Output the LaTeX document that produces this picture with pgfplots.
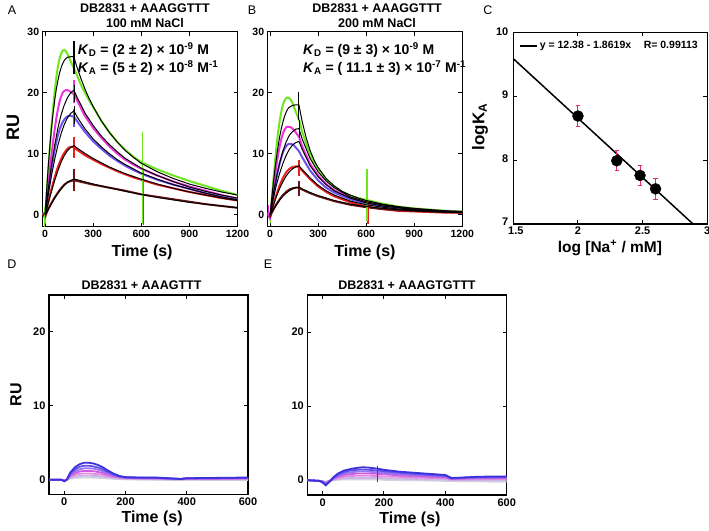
\documentclass[border=0pt]{standalone}
\usepackage{fontspec}
\setmainfont{Liberation Sans}
\usepackage{pgfplots}
\pgfplotsset{compat=1.18}
\definecolor{cgreen}{RGB}{110,230,30}
\definecolor{cmag}{RGB}{240,50,220}
\definecolor{cblue}{RGB}{110,80,240}
\definecolor{cred}{RGB}{235,30,30}
\definecolor{cdark}{RGB}{110,20,20}
\definecolor{cerr}{RGB}{235,40,100}
\definecolor{d1}{RGB}{60,50,220}
\definecolor{d2}{RGB}{100,80,235}
\definecolor{d3}{RGB}{150,120,240}
\definecolor{d4}{RGB}{210,90,225}
\definecolor{d5}{RGB}{225,140,225}
\definecolor{d6}{RGB}{205,180,230}
\definecolor{d7}{RGB}{210,210,225}
\newcommand{\lblfont}{\fontsize{16}{18}\selectfont\bfseries}
\newcommand{\ttlfont}{\fontsize{12.5}{15}\selectfont\bfseries}
\pgfplotsset{
  spr/.style={scale only axis, clip=false,
    axis line style={line width=1.2pt},
    every tick/.style={line width=1pt, black},
    major tick length=4pt, tick align=inside,
  },
  tlf/.style={tick label style={font=\fontsize{#1}{13}\selectfont\bfseries}},
  dat/.style={line width=2pt, no marks},
  fit/.style={black, line width=1pt, no marks},
}
\tikzset{ktext/.style={anchor=west, font=\fontsize{14}{16}\selectfont\bfseries, inner sep=0pt}}
\begin{document}
\begin{tikzpicture}[x=1pt,y=1pt]
\path[use as bounding box] (0,0) rectangle (709,530);
% ---------------- Panel A ----------------
\begin{axis}[spr, tlf=10.5, at={(42.7pt,303.3pt)}, anchor=south west, width=194.8pt, height=195pt,
  xmin=-15, xmax=1200, ymin=-2, ymax=30,
  xtick={0,300,600,900,1200}, ytick={0,10,20,30},
  xticklabels={\textbf{0},\textbf{300},\textbf{600},\textbf{900},\textbf{1200}},
  yticklabels={\textbf{0},\textbf{10},\textbf{20},\textbf{30}},
  xlabel={Time (s)}, ylabel={RU},
  every axis x label/.style={at={(axis description cs:0.51,-0.13)}, anchor=center, font=\lblfont},
  every axis y label/.style={at={(axis description cs:-0.152,0.511)}, anchor=center, rotate=90, font=\fontsize{18}{20}\selectfont\bfseries},
  title={DB2831 + AAAGGTTT\\100 mM NaCl},
  every axis title/.style={at={(axis description cs:0.525,1.083)}, anchor=center, align=center, font=\ttlfont},
]
\addplot[dat, cgreen] coordinates {(-15,0.3) (-5,0.2) (0,-1.5) (2,1) (5,1.5) (10,3.5) (20,7.5) (30,11) (40,14.5) (50,17.5) (60,20.2) (70,22.5) (80,24.3) (90,25.6) (100,26.4) (110,26.9) (120,27.0) (130,26.8) (140,26.3) (150,25.7) (160,25.1) (170,24.5) (180,24.0) (190,23.4) (200,22.8) (225,21.2) (250,19.9) (275,18.7) (300,17.6) (350,15.4) (400,13.5) (450,11.9) (500,10.6) (550,9.5) (600,8.6) (650,8.0) (700,7.4) (800,6.4) (900,5.5) (1000,4.7) (1100,3.9) (1200,3.2)};
\addplot[dat, cmag] coordinates {(-15,0.2) (0,-0.3) (10,2.5) (20,5) (30,7.5) (40,9.8) (50,12) (60,14) (70,15.8) (80,17.3) (90,18.5) (100,19.4) (110,20) (120,20.3) (130,20.4) (140,20.4) (150,20.3) (160,20.1) (170,19.9) (180,19.8) (190,19.3) (200,18.7) (250,16.1) (300,14.2) (350,12.6) (400,11.2) (450,10.0) (500,9.0) (550,8.2) (600,7.5) (700,6.4) (800,5.4) (900,4.6) (1000,3.9) (1100,3.2) (1200,2.6)};
\addplot[dat, cblue] coordinates {(-15,0.2) (0,-0.3) (10,2) (20,3.9) (30,5.8) (40,7.6) (50,9.2) (60,10.6) (70,11.9) (80,13) (90,13.9) (100,14.6) (110,15.2) (120,15.6) (130,15.9) (140,16.1) (150,16.2) (160,16.2) (170,16.1) (180,16.0) (200,15.3) (250,13.5) (300,12.0) (350,10.8) (400,9.7) (450,8.8) (500,8.0) (550,7.3) (600,6.7) (700,5.7) (800,4.9) (900,4.2) (1000,3.5) (1100,2.9) (1200,2.4)};
\addplot[dat, cred] coordinates {(-15,0.1) (0,-0.3) (10,1) (20,2.1) (30,3.2) (40,4.2) (50,5.2) (60,6.1) (70,7) (80,7.8) (90,8.5) (100,9.1) (110,9.7) (120,10.1) (130,10.5) (140,10.8) (150,11.0) (160,11.1) (170,11.1) (180,11.0) (200,10.6) (250,9.7) (300,9.0) (350,8.3) (400,7.7) (450,7.1) (500,6.6) (550,6.1) (600,5.7) (700,4.9) (800,4.3) (900,3.7) (1000,3.2) (1100,2.7) (1200,2.3)};
\addplot[dat, cdark] coordinates {(-15,0) (0,-0.3) (20,0.9) (40,1.9) (60,2.8) (80,3.6) (100,4.3) (120,4.9) (140,5.3) (160,5.5) (180,5.6) (200,5.5) (250,5.2) (300,4.9) (400,4.4) (500,3.9) (600,3.3) (700,2.9) (800,2.5) (900,2.1) (1000,1.7) (1100,1.4) (1200,1.1)};
% injection spikes
\addplot[cmag, line width=1.3pt] coordinates {(611,-1.5) (611,7.5)};
\addplot[cred, line width=1.3pt] coordinates {(613,-1.8) (613,3.5)};
\addplot[cgreen, line width=1.5pt] coordinates {(608,-1.5) (608,13.5)};
\addplot[cgreen, line width=1pt] coordinates {(-3,-2) (-3,1.2)};
\addplot[cmag, line width=1.2pt] coordinates {(180,18.3) (180,22)};
\addplot[cblue, line width=1.2pt] coordinates {(180,14.3) (180,17.3)};
\addplot[cred, line width=1.2pt] coordinates {(180,9.3) (180,12.8)};
\addplot[cdark, line width=1.2pt] coordinates {(180,3.8) (180,7.5)};
% fits
\addplot[fit] coordinates {(0,0) (10,4.2) (20,8) (30,11.3) (40,14.2) (50,16.7) (60,18.8) (70,20.6) (80,22) (90,23.2) (100,24.1) (110,24.8) (120,25.3) (130,25.6) (140,25.8) (160,25.9) (180,25.9) (190,24.9) (200,24.1) (225,22.2) (250,20.5) (275,19.0) (300,17.7) (350,15.4) (400,13.5) (450,11.9) (500,10.5) (550,9.4) (600,8.4) (700,7.0) (800,5.9) (900,5.0) (1000,4.3) (1100,3.7) (1200,3.2)};
\addplot[fit] coordinates {(0,0) (20,4.2) (40,8.1) (60,11.4) (80,14.2) (100,16.4) (120,18.0) (140,19.2) (160,20.0) (180,20.4) (200,19.2) (250,16.6) (300,14.6) (350,12.9) (400,11.5) (450,10.3) (500,9.2) (600,7.6) (700,6.4) (800,5.4) (900,4.5) (1000,3.8) (1100,3.2) (1200,2.7)};
\addplot[fit] coordinates {(0,0) (20,3.3) (40,6.4) (60,9.1) (80,11.4) (100,13.3) (120,14.8) (140,15.9) (160,16.6) (180,17.0) (200,16.0) (250,14.0) (300,12.4) (350,11.1) (400,10.0) (450,9.0) (500,8.2) (600,6.8) (700,5.8) (800,4.9) (900,4.2) (1000,3.5) (1100,2.9) (1200,2.4)};
\addplot[fit] coordinates {(0,0) (20,1.9) (40,3.8) (60,5.6) (80,7.2) (100,8.6) (120,9.7) (140,10.5) (160,11.0) (180,11.3) (200,10.9) (250,10.0) (300,9.2) (400,7.8) (500,6.7) (600,5.8) (700,5.0) (800,4.3) (900,3.7) (1000,3.2) (1100,2.7) (1200,2.3)};
\addplot[fit] coordinates {(0,0) (20,0.9) (40,1.8) (60,2.7) (80,3.5) (100,4.2) (120,4.8) (140,5.3) (160,5.6) (180,5.8) (200,5.7) (300,5.0) (400,4.4) (500,3.8) (600,3.3) (700,2.8) (800,2.4) (900,2.0) (1000,1.7) (1100,1.4) (1200,1.1)};
\addplot[black, line width=1.1pt] coordinates {(180,23) (180,28.5)};
\addplot[black, line width=1pt] coordinates {(182,18.5) (182,21.2)};
\addplot[black, line width=1pt] coordinates {(182,14.8) (182,17.8)};
\node[ktext] at (axis description cs:0.18,0.906) {\textit{K}\textsubscript{D} = (2 ± 2) × 10\textsuperscript{-9} M};
\node[ktext] at (axis description cs:0.18,0.813) {\textit{K}\textsubscript{A} = (5 ± 2) × 10\textsuperscript{-8} M\textsuperscript{-1}};
\end{axis}
% ---------------- Panel B ----------------
\begin{axis}[spr, tlf=10.5, at={(267.7pt,303.3pt)}, anchor=south west, width=194.6pt, height=195pt,
  xmin=-15, xmax=1200, ymin=-2, ymax=30,
  xtick={0,300,600,900,1200}, ytick={0,10,20,30},
  xticklabels={\textbf{0},\textbf{300},\textbf{600},\textbf{900},\textbf{1200}},
  yticklabels={\textbf{0},\textbf{10},\textbf{20},\textbf{30}},
  xlabel={Time (s)},
  every axis x label/.style={at={(axis description cs:0.5,-0.13)}, anchor=center, font=\lblfont},
  title={DB2831 + AAAGGTTT\\200 mM NaCl},
  every axis title/.style={at={(axis description cs:0.562,1.083)}, anchor=center, align=center, font=\ttlfont},
]
\addplot[dat, cgreen] coordinates {(-15,0.3) (0,-0.8) (5,0.5) (10,2.5) (20,5.5) (30,8.5) (40,11.2) (50,13.5) (60,15.4) (70,16.9) (80,18) (90,18.7) (100,19.1) (110,19.2) (120,19.1) (130,18.8) (140,18.3) (150,17.6) (160,16.9) (170,16.2) (180,15.6) (190,14.6) (200,13.6) (225,11.6) (250,9.9) (275,8.6) (300,7.5) (350,5.8) (400,4.6) (450,3.7) (500,3.1) (550,2.7) (600,2.4) (700,1.8) (800,1.3) (900,1.0) (1000,0.8) (1100,0.6) (1200,0.5)};
\addplot[dat, cmag] coordinates {(-15,0.2) (0,-0.5) (10,1.8) (20,4) (30,6.2) (40,8.1) (50,9.8) (60,11.2) (70,12.4) (80,13.3) (90,13.9) (100,14.3) (110,14.4) (120,14.4) (130,14.3) (140,14.1) (150,13.8) (160,13.5) (170,13.1) (180,12.8) (200,11.2) (250,8.3) (300,6.4) (350,5.0) (400,4.0) (500,2.7) (600,2.0) (700,1.5) (800,1.1) (900,0.9) (1000,0.7) (1100,0.5) (1200,0.4)};
\addplot[dat, cblue] coordinates {(-15,0.2) (0,-0.4) (10,1.4) (20,3.0) (30,4.6) (40,6.0) (50,7.3) (60,8.4) (70,9.4) (80,10.2) (90,10.8) (100,11.2) (110,11.5) (120,11.6) (130,11.6) (140,11.5) (150,11.3) (160,11.0) (170,10.7) (180,10.4) (200,9.4) (250,7.2) (300,5.6) (350,4.4) (400,3.6) (500,2.5) (600,1.8) (700,1.4) (800,1.0) (900,0.8) (1000,0.6) (1100,0.5) (1200,0.4)};
\addplot[dat, cred] coordinates {(-15,0.1) (0,-0.3) (20,1.6) (40,3.3) (60,4.8) (80,6.0) (100,6.9) (120,7.5) (140,7.8) (160,7.9) (180,7.8) (200,7.2) (250,5.8) (300,4.6) (350,3.7) (400,3.0) (500,2.0) (600,1.3) (700,0.9) (800,0.6) (900,0.5) (1000,0.4) (1100,0.3) (1200,0.3)};
\addplot[dat, cdark] coordinates {(-15,0) (0,-0.3) (20,0.8) (40,1.7) (60,2.5) (80,3.2) (100,3.7) (120,4.1) (140,4.3) (160,4.4) (180,4.4) (200,4.1) (250,3.5) (300,3.0) (400,2.2) (500,1.6) (600,1.2) (700,0.9) (800,0.7) (900,0.6) (1000,0.5) (1100,0.4) (1200,0.3)};
\addplot[cred, line width=1.2pt] coordinates {(611,-1.5) (611,2)};
\addplot[cgreen, line width=1.6pt] coordinates {(606,-1) (606,7.5)};
\addplot[cmag, line width=1pt] coordinates {(-8,-0.5) (-8,1.5)};
\addplot[cred, line width=1.2pt] coordinates {(180,6.3) (180,9)};
\addplot[cdark, line width=1.2pt] coordinates {(180,3) (180,5.5)};
\addplot[fit] coordinates {(0,0) (10,2.6) (20,5.1) (30,7.4) (40,9.4) (50,11.2) (60,12.8) (70,14.1) (80,15.2) (90,16.1) (100,16.8) (110,17.3) (120,17.6) (140,17.9) (160,18.0) (180,18.0) (190,16.6) (200,15.3) (225,12.6) (250,10.5) (275,8.9) (300,7.7) (350,5.9) (400,4.7) (450,3.8) (500,3.2) (550,2.7) (600,2.3) (700,1.7) (800,1.3) (900,1.0) (1000,0.8) (1100,0.6) (1200,0.5)};
\addplot[fit] coordinates {(0,0) (20,3.4) (40,6.2) (60,8.5) (80,10.4) (100,11.9) (120,13.0) (140,13.6) (160,14.0) (180,14.1) (200,12.4) (250,9.2) (300,7.0) (350,5.5) (400,4.4) (500,2.9) (600,2.1) (700,1.6) (800,1.2) (900,0.9) (1000,0.7) (1100,0.5) (1200,0.4)};
\addplot[fit] coordinates {(0,0) (20,2.6) (40,4.9) (60,6.8) (80,8.4) (100,9.7) (120,10.7) (140,11.4) (160,11.8) (180,12.0) (200,10.7) (250,8.0) (300,6.2) (350,4.9) (400,3.9) (500,2.7) (600,1.9) (700,1.4) (800,1.1) (900,0.8) (1000,0.6) (1100,0.5) (1200,0.4)};
\addplot[fit] coordinates {(0,0) (20,1.5) (40,3.0) (60,4.3) (80,5.4) (100,6.3) (120,7.0) (140,7.5) (160,7.8) (180,8.0) (200,7.4) (250,6.0) (300,4.8) (350,3.9) (400,3.2) (500,2.2) (600,1.6) (700,1.2) (800,0.9) (900,0.7) (1000,0.5) (1100,0.4) (1200,0.4)};
\addplot[fit] coordinates {(0,0) (20,0.8) (40,1.6) (60,2.4) (80,3.0) (100,3.5) (120,3.9) (140,4.2) (160,4.4) (180,4.5) (200,4.2) (250,3.6) (300,3.1) (400,2.3) (500,1.7) (600,1.3) (700,1.0) (800,0.8) (900,0.6) (1000,0.5) (1100,0.4) (1200,0.3)};
\addplot[black, line width=1.1pt] coordinates {(180,15.5) (180,20.1)};
\addplot[black, line width=1pt] coordinates {(182,12.5) (182,15.5)};
\node[ktext] at (axis description cs:0.181,0.906) {\textit{K}\textsubscript{D} = (9 ± 3) × 10\textsuperscript{-9} M};
\node[ktext] at (axis description cs:0.181,0.813) {\textit{K}\textsubscript{A} = ( 11.1 ± 3) × 10\textsuperscript{-7} M\textsuperscript{-1}};
\end{axis}
% ---------------- Panel C ----------------
\begin{axis}[spr, tlf=11, at={(513.3pt,306pt)}, anchor=south west, width=194pt, height=191.7pt,
  xmin=1.5, xmax=3, ymin=7, ymax=10,
  xtick={1.5,2,2.5,3}, ytick={7,8,9,10},
  xticklabels={\textbf{\hspace{5pt}1.5},\textbf{2},\textbf{2.5},\textbf{3}},
  yticklabels={\raisebox{2.5pt}{\textbf{7}},\textbf{8},\textbf{9},\textbf{10}},
  xticklabel style={yshift=1pt},
  yticklabel style={xshift=-1.5pt, yshift=1pt},
  xlabel={log [Na\textsuperscript{+} / mM]}, ylabel={logK\textsubscript{A}},
  every axis x label/.style={at={(axis description cs:0.498,-0.125)}, anchor=center, font=\fontsize{15.5}{18}\selectfont\bfseries},
  every axis y label/.style={at={(axis description cs:-0.172,0.506)}, anchor=center, rotate=90, font=\fontsize{17}{19}\selectfont\bfseries},
  legend style={at={(axis description cs:0.03,0.929)}, anchor=west, draw=none, fill=none, inner sep=0pt,
    font=\fontsize{10.5}{12}\selectfont\bfseries, cells={anchor=west}},
  legend image code/.code={\draw[#1] (0pt,0pt) -- (17pt,0pt);},
]
\addplot[black, line width=1.5pt] coordinates {(1.5,9.587) (2.8896,7.0)};
\addlegendentry{y = 12.38 - 1.8619x\hspace{1.2em}R= 0.99113}
\addplot[only marks, mark=*, mark size=5.5pt, black,
  error bars/.cd, y dir=both, y explicit,
  error bar style={color=cerr, line width=1pt},
  error mark options={color=cerr, rotate=90, mark size=2.2pt, line width=1pt}]
  coordinates {(2.0,8.69) +- (0,0.17) (2.3,7.99) +- (0,0.16) (2.48,7.76) +- (0,0.16) (2.6,7.55) +- (0,0.16)};
\end{axis}
% ---------------- Panel D ----------------
\begin{axis}[spr, tlf=11, at={(49pt,35.5pt)}, anchor=south west, width=199pt, height=199.5pt,
  xmin=-50, xmax=600, ymin=-2, ymax=25,
  xtick={0,200,400,600}, ytick={0,10,20},
  xticklabels={\textbf{0},\textbf{200},\textbf{400},\textbf{600}},
  yticklabels={\textbf{0},\textbf{10},\textbf{20}},
  xlabel={Time (s)}, ylabel={RU},
  every axis x label/.style={at={(axis description cs:0.518,-0.118)}, anchor=center, font=\lblfont},
  every axis y label/.style={at={(axis description cs:-0.166,0.499)}, anchor=center, rotate=90, font=\lblfont},
  title={DB2831 + AAAGTTT},
  every axis title/.style={at={(axis description cs:0.465,1.05)}, anchor=center, font=\ttlfont},
]
\addplot[d7, line width=1.8pt] coordinates {(-50,0) (-10,0) (0,-0.1) (8,0) (20,0.15) (35,0.23) (50,0.28) (65,0.3) (80,0.3) (95,0.28) (110,0.26) (125,0.22) (140,0.18) (160,0.12) (180,0.08) (200,0.05) (250,0) (300,0) (380,-0.05) (400,0) (500,-0.05) (600,-0.05)};
\addplot[d6, line width=1.8pt] coordinates {(-50,0) (-10,0) (0,-0.1) (8,0) (20,0.25) (35,0.42) (50,0.5) (65,0.55) (80,0.55) (95,0.52) (110,0.48) (125,0.42) (140,0.33) (160,0.25) (180,0.15) (200,0.1) (250,0.1) (300,0.05) (380,0) (400,0.05) (500,0.05) (600,0.05)};
\addplot[d5, line width=1.8pt] coordinates {(-50,0) (-10,0) (0,-0.1) (8,0) (20,0.4) (35,0.65) (50,0.8) (65,0.85) (80,0.85) (95,0.8) (110,0.75) (125,0.65) (140,0.5) (160,0.35) (180,0.25) (200,0.2) (250,0.15) (300,0.15) (380,0.05) (400,0.1) (500,0.1) (600,0.1)};
\addplot[d4, line width=1.8pt] coordinates {(-50,0) (-10,0) (0,-0.1) (8,0) (20,0.55) (35,0.9) (50,1.1) (65,1.2) (80,1.2) (95,1.15) (110,1.05) (125,0.9) (140,0.7) (160,0.5) (180,0.35) (200,0.25) (250,0.2) (300,0.2) (380,0.1) (400,0.15) (500,0.15) (600,0.2)};
\addplot[d3, line width=1.8pt] coordinates {(-50,0) (-10,0) (0,-0.2) (8,0) (20,0.7) (35,1.15) (50,1.4) (65,1.55) (80,1.55) (95,1.5) (110,1.35) (125,1.15) (140,0.9) (160,0.6) (180,0.4) (200,0.3) (250,0.25) (300,0.2) (380,0.1) (400,0.15) (500,0.2) (600,0.2)};
\addplot[d2, line width=1.8pt] coordinates {(-50,0) (-10,0) (0,-0.2) (8,0) (20,0.85) (35,1.4) (50,1.75) (65,1.9) (80,1.9) (95,1.8) (110,1.65) (125,1.4) (140,1.1) (160,0.7) (180,0.45) (200,0.3) (250,0.25) (300,0.25) (380,0.1) (400,0.2) (500,0.2) (600,0.25)};
\addplot[d1, line width=1.8pt] coordinates {(-50,0) (-10,0) (0,-0.2) (8,0) (20,1.0) (35,1.7) (50,2.1) (65,2.3) (80,2.3) (95,2.2) (110,2.0) (125,1.7) (140,1.3) (160,0.85) (180,0.5) (200,0.35) (250,0.3) (300,0.3) (380,0.1) (400,0.2) (500,0.25) (600,0.3)};
\end{axis}
% ---------------- Panel E ----------------
\begin{axis}[spr, tlf=11, at={(307.3pt,35pt)}, anchor=south west, width=199.4pt, height=200pt,
  xmin=-50, xmax=600, ymin=-2, ymax=25,
  xtick={0,200,400,600}, ytick={0,10,20},
  xticklabels={\textbf{0},\textbf{200},\textbf{400},\textbf{600}},
  yticklabels={\textbf{0},\textbf{10},\textbf{20}},
  xlabel={Time (s)},
  every axis x label/.style={at={(axis description cs:0.515,-0.12)}, anchor=center, font=\lblfont},
  title={DB2831 + AAAGTGTTT},
  every axis title/.style={at={(axis description cs:0.5,1.05)}, anchor=center, font=\ttlfont},
]
\addplot[d7, line width=1.8pt] coordinates {(-50,0) (-10,-0.1) (0,-0.1) (10,-0.2) (20,-0.1) (35,0) (50,0.05) (70,0.1) (90,0.1) (110,0.1) (130,0.1) (150,0.1) (180,0.1) (200,0.05) (250,0) (300,0) (350,-0.05) (400,-0.1) (420,-0.1) (450,-0.15) (500,-0.15) (550,-0.2) (600,-0.2)};
\addplot[d6, line width=1.8pt] coordinates {(-50,0) (-10,-0.1) (0,-0.15) (10,-0.25) (20,-0.1) (35,0.05) (50,0.15) (70,0.25) (90,0.3) (110,0.3) (130,0.3) (150,0.3) (180,0.3) (200,0.25) (250,0.2) (300,0.15) (350,0.1) (400,0.1) (420,0) (450,0) (500,0) (550,0) (600,0)};
\addplot[d5, line width=1.8pt] coordinates {(-50,0) (-10,-0.1) (0,-0.2) (10,-0.3) (20,-0.15) (35,0.1) (50,0.3) (70,0.45) (90,0.55) (110,0.6) (130,0.6) (150,0.6) (180,0.55) (200,0.5) (250,0.45) (300,0.35) (350,0.3) (400,0.25) (420,0.1) (450,0.1) (500,0.15) (550,0.15) (600,0.15)};
\addplot[d4, line width=1.8pt] coordinates {(-50,0) (-10,-0.1) (0,-0.2) (10,-0.4) (20,-0.2) (35,0.2) (50,0.45) (70,0.7) (90,0.8) (110,0.9) (130,0.9) (150,0.9) (180,0.85) (200,0.8) (250,0.65) (300,0.55) (350,0.45) (400,0.4) (420,0.15) (450,0.2) (500,0.25) (550,0.25) (600,0.25)};
\addplot[d3, line width=1.8pt] coordinates {(-50,0) (-10,-0.1) (0,-0.2) (10,-0.5) (20,-0.2) (35,0.25) (50,0.6) (70,0.9) (90,1.05) (110,1.15) (130,1.2) (150,1.15) (180,1.05) (200,1.0) (250,0.8) (300,0.7) (350,0.6) (400,0.5) (420,0.2) (450,0.25) (500,0.3) (550,0.35) (600,0.35)};
\addplot[d2, line width=1.8pt] coordinates {(-50,0) (-10,-0.1) (0,-0.3) (10,-0.6) (20,-0.3) (35,0.3) (50,0.75) (70,1.1) (90,1.3) (110,1.4) (130,1.45) (150,1.4) (180,1.3) (200,1.2) (250,1.0) (300,0.85) (350,0.7) (400,0.6) (420,0.25) (450,0.3) (500,0.4) (550,0.4) (600,0.45)};
\addplot[d1, line width=1.8pt] coordinates {(-50,0) (-10,-0.1) (0,-0.3) (10,-0.7) (20,-0.3) (35,0.4) (50,0.9) (70,1.3) (90,1.5) (110,1.65) (130,1.75) (150,1.7) (180,1.55) (200,1.4) (250,1.15) (300,1.0) (350,0.85) (400,0.7) (420,0.3) (450,0.35) (500,0.45) (550,0.5) (600,0.5)};
\addplot[d1, line width=1pt] coordinates {(180,-0.3) (180,1.9)};
\end{axis}
% panel letters
\node[font=\fontsize{12.5}{13}\selectfont] at (12,520) {A};
\node[font=\fontsize{12.5}{13}\selectfont] at (252,520) {B};
\node[font=\fontsize{12.5}{13}\selectfont] at (488,520) {C};
\node[font=\fontsize{12.5}{13}\selectfont] at (12,266) {D};
\node[font=\fontsize{12.5}{13}\selectfont] at (268,266) {E};
\end{tikzpicture}
\end{document}
